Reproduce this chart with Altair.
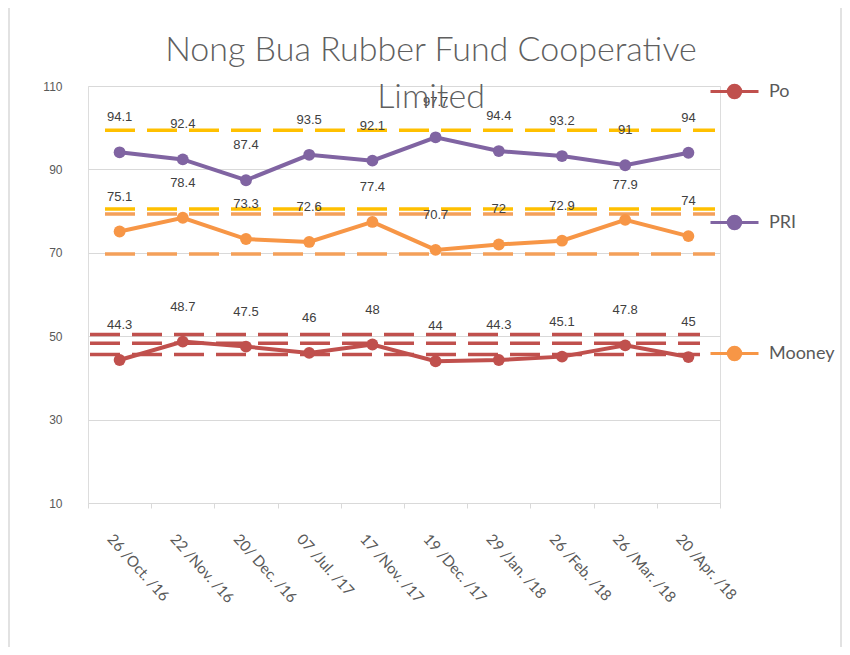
import altair as alt
import pandas as pd

dates = ["26 /Oct. /16", "22 /Nov. /16", "20/ Dec. /16", "07 /Jul. /17", "17 /Nov. /17",
         "19 /Dec. /17", "29 /Jan. /18", "26 /Feb. /18", "26 /Mar. /18", "20 /Apr. /18"]
series_names = ["Po", "PRI", "Mooney"]
po = [44.3, 48.7, 47.5, 46, 48, 44, 44.3, 45.1, 47.8, 45]
pri = [94.1, 92.4, 87.4, 93.5, 92.1, 97.7, 94.4, 93.2, 91, 94]
mooney = [75.1, 78.4, 73.3, 72.6, 77.4, 70.7, 72, 72.9, 77.9, 74]

pri_limits = [99.4, 80.5]
mooney_limits = [79.3, 69.7]
po_limits = [50.4, 48.3, 45.6]

series_colors = ["#C0504D", "#8064A2", "#F79646"]

rows = []
for name, vals in zip(series_names, [po, pri, mooney]):
    for d, v in zip(dates, vals):
        rows.append({"date": d, "series": name, "value": v})
df = pd.DataFrame(rows)

lim_rows = [{"group": "PRI", "value": v} for v in pri_limits] + \
           [{"group": "Mooney", "value": v} for v in mooney_limits]
lim_df = pd.DataFrame(lim_rows)
po_lim_df = pd.DataFrame({"group": ["Po"] * len(po_limits), "value": po_limits})

W, H = 632, 417

x_enc = alt.X("date:N", sort=dates, title=None,
              scale=alt.Scale(paddingInner=0, paddingOuter=0),
              axis=alt.Axis(labelAngle=48, labelAlign="left", labelBaseline="middle",
                            labelPadding=28, labelOffset=-10, labelFont="Lato", labelFontSize=15,
                            labelColor="#595959", tickBand="extent", tickSize=5,
                            tickColor="#d9d9d9", domainColor="#d9d9d9", grid=False,
                            labelOverlap=False))
y_scale = alt.Scale(domain=[10, 110], nice=False, zero=False)
y_enc = alt.Y("value:Q", scale=y_scale, title=None,
              axis=alt.Axis(values=[10, 30, 50, 70, 90, 110], grid=True, gridColor="#d9d9d9",
                            domain=False, ticks=False, labelPadding=26,
                            labelFont="Liberation Sans", labelFontSize=12,
                            labelColor="#595959"))

r = []
for rad in [0.26, 0.2, 0.14, 0.08, 0.03]:
    r.append(f"M{-rad},0a{rad},{rad} 0 1,0 {2*rad},0a{rad},{rad} 0 1,0 {-2*rad},0")
symbol_path = "M-1,0L1,0" + "".join(r)

frame = alt.Chart(pd.DataFrame({"k": [0]})).mark_rect(
    fill="transparent", stroke="#d9d9d9", strokeWidth=1.5
).encode(x=alt.value(-79), x2=alt.value(753), y=alt.value(-79), y2=alt.value(600))

stroke_scale = alt.Scale(domain=["PRI", "Mooney", "Po"], range=["#FFC000", "#F4A05A", "#C0504D"])

rules = alt.Chart(lim_df).mark_rule(strokeWidth=3.5, strokeDash=[30, 12]).encode(
    y=alt.Y("value:Q", scale=y_scale),
    stroke=alt.Stroke("group:N", scale=stroke_scale, legend=None),
    x=alt.value(17), x2=alt.value(627),
)
po_rules = alt.Chart(po_lim_df).mark_rule(strokeWidth=3.5, strokeDash=[30, 12]).encode(
    y=alt.Y("value:Q", scale=y_scale),
    stroke=alt.Stroke("group:N", scale=stroke_scale, legend=None),
    x=alt.value(2), x2=alt.value(612),
)

lines = alt.Chart(df).mark_line(strokeWidth=4, point=alt.OverlayMarkDef(filled=True, size=140)).encode(
    x=x_enc, y=y_enc,
    color=alt.Color("series:N",
                    scale=alt.Scale(domain=series_names, range=series_colors),
                    legend=alt.Legend(orient="none", legendX=621, legendY=-20, title=None,
                                      symbolType=symbol_path, symbolSize=2304,
                                      symbolStrokeWidth=3, labelFont="Lato",
                                      labelFontSize=18, labelColor="#595959",
                                      rowPadding=93, labelOffset=9, direction="vertical")),
    detail="series:N",
)

labels = alt.Chart(df).mark_text(dy=-35, font="Liberation Sans", fontSize=13,
                                 color="#404040", align="center", baseline="middle").encode(
    x=alt.X("date:N", sort=dates), y=alt.Y("value:Q", scale=y_scale), text=alt.Text("value:Q"))

chart = alt.layer(frame, rules, po_rules, lines, labels).properties(
    width=W, height=H,
    title=alt.TitleParams(["Nong Bua Rubber Fund Cooperative", "Limited"], font="Lato",
                          fontSize=34, fontWeight=300, color="#5f5f5f", lineHeight=47,
                          anchor="middle", dx=27, dy=85, offset=-24),
    padding={"left": 80, "top": 78, "right": 122, "bottom": 144},
    autosize=alt.AutoSizeParams(type="none"),
).configure_view(stroke=None).configure(background="white")

chart.save("out.html", embed_options={"renderer": "svg", "actions": False})
